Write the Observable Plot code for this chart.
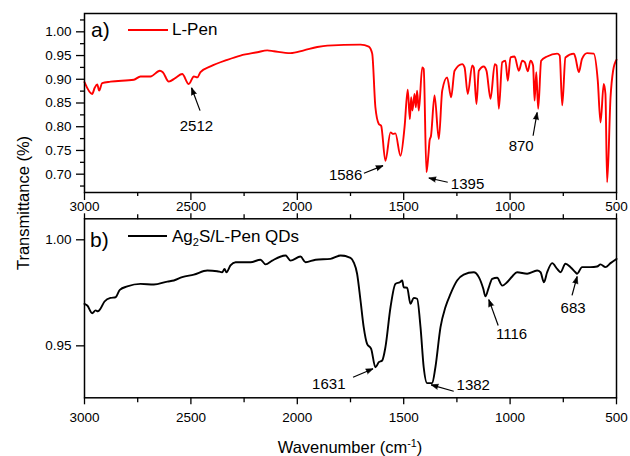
<!DOCTYPE html>
<html>
<head>
<meta charset="utf-8">
<script src="https://cdn.jsdelivr.net/npm/d3@7"></script>
<script src="https://cdn.jsdelivr.net/npm/@observablehq/plot@0.6"></script>
<style>
  html, body { margin: 0; padding: 0; background: #fff; }
  #wrap { position: relative; width: 630px; height: 456px; background: #fff; font-family: 'Liberation Sans', Arial, sans-serif; color: #000; }
  #pa, #pb { position: absolute; left: 0; top: 0; }
  .lab { position: absolute; line-height: 1; white-space: nowrap; }
  .key { position: absolute; height: 0; }
  sub { font-size: 0.65em; vertical-align: -0.35em; line-height: 0; }
  sup { font-size: 0.65em; vertical-align: 0.55em; line-height: 0; }
</style>
</head>
<body>
<div id="wrap">
  <div id="pa"></div>
  <div id="pb"></div>
  <div class="lab" style="left:91px;top:19px;font-size:21px;">a)</div>
  <div class="key" style="left:128px;top:28.5px;width:40px;border-top:2px solid #ff0000;"></div>
  <div class="lab" style="left:172px;top:21px;font-size:17px;">L-Pen</div>
  <div class="lab" style="left:90px;top:229px;font-size:21px;">b)</div>
  <div class="key" style="left:128px;top:235px;width:39px;border-top:2px solid #000;"></div>
  <div class="lab" style="left:172px;top:227.5px;font-size:17px;">Ag<sub>2</sub>S/L-Pen QDs</div>
  <div class="lab" style="left:350px;top:439px;font-size:16.5px;transform:translateX(-50%);">Wavenumber (cm<sup>-1</sup>)</div>
  <div class="lab" style="left:23px;top:203px;font-size:16.5px;transform:translate(-50%,-50%) rotate(-90deg);">Transmittance (%)</div>
</div>
<script>
// ---- Panel a: L-Pen (red) ----
const penWn = [3000,2964,2952,2940,2931,2917,2878,2768,2737,2690,2646,2632,2604,2572,2541,2510,2486,2470,2455,2408,2329,2267,2188,2141,2110,2032,1969,1906,1859,1703,1664,1648,1633,1617,1606,1586,1562,1549,1539,1515,1496,1481,1471,1465,1459,1449,1443,1437,1429,1413,1406,1393,1384,1378,1372,1355,1335,1319,1296,1277,1261,1225,1214,1199,1178,1171,1158,1147,1124,1111,1092,1072,1064,1053,1037,1022,1011,998,979,959,943,931,917,904,892,885,877,868,854,826,779,767,755,740,700,693,677,662,638,607,588,575,560,552,544,528,516,500];
const penT = [0.894,0.869,0.882,0.889,0.876,0.892,0.895,0.899,0.906,0.906,0.918,0.915,0.895,0.903,0.911,0.890,0.906,0.904,0.915,0.927,0.941,0.950,0.957,0.961,0.959,0.955,0.961,0.968,0.971,0.973,0.969,0.954,0.841,0.806,0.802,0.728,0.788,0.785,0.786,0.739,0.799,0.878,0.816,0.862,0.834,0.869,0.841,0.876,0.834,0.925,0.922,0.704,0.740,0.772,0.780,0.866,0.774,0.876,0.904,0.862,0.918,0.932,0.925,0.869,0.929,0.925,0.848,0.918,0.927,0.918,0.859,0.932,0.929,0.838,0.936,0.939,0.897,0.946,0.948,0.918,0.939,0.936,0.917,0.939,0.929,0.855,0.915,0.838,0.939,0.948,0.954,0.950,0.845,0.946,0.954,0.946,0.915,0.943,0.955,0.954,0.897,0.809,0.890,0.869,0.683,0.862,0.918,0.941];

// ---- Panel b: Ag2S/L-Pen QDs (black) ----
const agWn = [3000,2987,2964,2948,2937,2925,2906,2878,2854,2834,2799,2737,2674,2611,2580,2541,2486,2423,2376,2353,2342,2333,2314,2290,2220,2173,2149,2118,2055,2032,1985,1961,1914,1844,1797,1750,1735,1719,1703,1688,1672,1653,1633,1617,1601,1586,1562,1539,1518,1507,1500,1484,1468,1453,1437,1421,1406,1390,1366,1351,1327,1304,1280,1249,1218,1171,1147,1126,1116,1100,1084,1061,1037,1014,990,967,920,873,857,841,826,802,779,763,740,716,693,685,662,622,591,575,552,528,500];
const agT = [0.9698,0.969,0.9654,0.9667,0.9663,0.9675,0.9709,0.9726,0.9729,0.9764,0.978,0.9792,0.9789,0.9803,0.9808,0.9824,0.9836,0.9855,0.9852,0.9847,0.9863,0.9847,0.9879,0.9894,0.9894,0.9906,0.9884,0.9902,0.9926,0.9902,0.9921,0.9894,0.9906,0.991,0.9926,0.9915,0.9894,0.984,0.9714,0.9588,0.9509,0.9486,0.9399,0.9423,0.9431,0.9493,0.9682,0.9792,0.98,0.9808,0.9776,0.9774,0.9698,0.9726,0.9722,0.9588,0.9399,0.9324,0.9324,0.9399,0.9588,0.9682,0.9745,0.9808,0.9836,0.9847,0.9824,0.9769,0.9733,0.9776,0.9816,0.9821,0.9784,0.98,0.9827,0.9847,0.984,0.9855,0.9847,0.98,0.9847,0.989,0.9863,0.9847,0.9887,0.9871,0.9847,0.984,0.9871,0.9871,0.9874,0.9884,0.9871,0.989,0.991];

// ---- Peak annotations (label position, arrow tail, arrow tip) ----
const annA_text = ["2512","1586","1395","870"];
const annA_lx = [2474,1773,1200,948];
const annA_ly = [0.802,0.697,0.679,0.760];
const annA_x1 = [2457,1687,1293,892];
const annA_y1 = [0.834,0.702,0.683,0.781];
const annA_x2 = [2497,1597,1382,873];
const annA_y2 = [0.882,0.718,0.692,0.830];

const annB_text = ["1631","1382","1116","683"];
const annB_lx = [1852,1173,993,704];
const annB_ly = [0.9321,0.9313,0.9557,0.9679];
const annB_x1 = [1738,1265,1056,709];
const annB_y1 = [0.9352,0.9286,0.9596,0.9738];
const annB_x2 = [1644,1371,1100,685];
const annB_y2 = [0.9392,0.9316,0.9718,0.9827];

// ---- Tick values ----
const xMajor = [3000,2500,2000,1500,1000,500];
const xMinor = [2750,2250,1750,1250,750];
const yMajorA = [0.70,0.75,0.80,0.85,0.90,0.95,1.00];
const yMinorA = [0.675,0.725,0.775,0.825,0.875,0.925,0.975,1.025];
const yMajorB = [0.95,1.00];

const penData = penWn.map((w,i)=>({w, t: penT[i]}));
const agData = agWn.map((w,i)=>({w, t: agT[i]}));
const annA = annA_text.map((s,i)=>({s, lx: annA_lx[i], ly: annA_ly[i], x1: annA_x1[i], y1: annA_y1[i], x2: annA_x2[i], y2: annA_y2[i]}));
const annB = annB_text.map((s,i)=>({s, lx: annB_lx[i], ly: annB_ly[i], x1: annB_x1[i], y1: annB_y1[i], x2: annB_x2[i], y2: annB_y2[i]}));

const font = "'Liberation Sans', Arial, sans-serif";
const fmtX = d => String(d);
const fmtY = d3.format(".2f");
const blank = () => "";

const common = {
  width: 630, height: 456,
  marginLeft: 84, marginRight: 14,
  x: {domain: [3000, 500]},
  style: {background: "transparent", fontFamily: font, color: "black"}
};

function panel(opts, yDomain, data, color, ann, axes) {
  const build = (angles) => Plot.plot({
    ...common, ...opts,
    y: {domain: yDomain},
    marks: [
      ...axes,
      Plot.line(data, {x: "w", y: "t", stroke: color, strokeWidth: 1.9, curve: "monotone-x"}),
      Plot.link(ann, {x1: "x1", y1: "y1", x2: "x2", y2: "y2", stroke: "black", strokeWidth: 1.2}),
      angles ? Plot.vector(ann, {x: "x2", y: "y2", rotate: (d,i) => angles[i], length: 7, r: 2.6, shape: "spike", anchor: "end", fill: "black", stroke: "black", strokeWidth: 0.6}) : null,
      Plot.text(ann, {x: "lx", y: "ly", text: "s", fontSize: 15, fill: "black"}),
      Plot.frame({stroke: "black", strokeWidth: 1.5})
    ]
  });
  const first = build(null);
  const sx = first.scale("x"), sy = first.scale("y");
  const angles = ann.map(d => {
    const dx = sx.apply(d.x2) - sx.apply(d.x1);
    const dy = sy.apply(d.y2) - sy.apply(d.y1);
    return Math.atan2(dx, -dy) * 180 / Math.PI;
  });
  return build(angles);
}

const plotA = panel({marginTop: 13, marginBottom: 264}, [0.6614, 1.0386], penData, "#ff0000", annA, [
  Plot.axisX({ticks: xMajor, tickSize: 8, tickPadding: 1, tickFormat: fmtX, label: null, fontSize: 13.5, strokeWidth: 1.3}),
  Plot.axisX({ticks: xMinor, tickSize: 4, tickFormat: blank, label: null, strokeWidth: 1.3}),
  Plot.axisY({ticks: yMajorA, tickSize: 8, tickPadding: 5, tickFormat: fmtY, label: null, fontSize: 13.5, strokeWidth: 1.3}),
  Plot.axisY({ticks: yMinorA, tickSize: 4, tickFormat: blank, label: null, strokeWidth: 1.3})
]);

const plotB = panel({marginTop: 218.3, marginBottom: 58.7}, [0.9255, 1.0099], agData, "black", annB, [
  Plot.axisX({ticks: xMajor, tickSize: 7, tickPadding: 8, tickFormat: fmtX, label: null, fontSize: 13.5, strokeWidth: 1.3}),
  Plot.axisX({ticks: xMinor, tickSize: 5, tickFormat: blank, label: null, strokeWidth: 1.3}),
  Plot.axisX({anchor: "top", ticks: xMajor, tickSize: 6, tickFormat: blank, label: null, strokeWidth: 1.3}),
  Plot.axisX({anchor: "top", ticks: xMinor, tickSize: 5, tickFormat: blank, label: null, strokeWidth: 1.3}),
  Plot.axisY({ticks: yMajorB, tickSize: 8, tickPadding: 5, tickFormat: fmtY, label: null, fontSize: 13.5, strokeWidth: 1.3})
]);

document.getElementById("pa").appendChild(plotA);
document.getElementById("pb").appendChild(plotB);
</script>
</body>
</html>
